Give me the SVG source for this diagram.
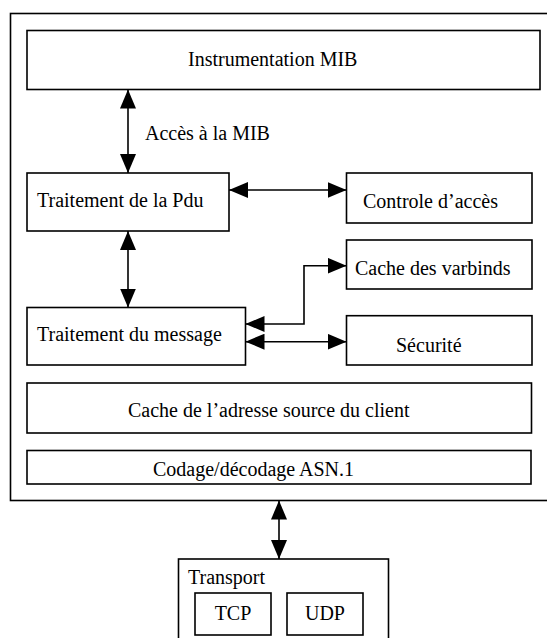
<svg xmlns="http://www.w3.org/2000/svg" width="547" height="638" viewBox="0 0 547 638">
<style>
rect{fill:#fff;stroke:#000;stroke-width:1.6}
text{font-family:"Liberation Serif","Times New Roman",serif;font-size:20px;fill:#000}
.c{fill:none;stroke:#000;stroke-width:1.6}
</style>
<defs>
<marker id="a" markerUnits="userSpaceOnUse" markerWidth="19" markerHeight="16" refX="19" refY="8" orient="auto-start-reverse" viewBox="0 0 19 16">
<path d="M0,0 L19,8 L0,16 z" fill="#000"/>
</marker>
</defs>
<g id="agent"><rect x="10.5" y="13.5" width="545" height="487"/></g>
<g id="mib"><rect x="27" y="30.5" width="513" height="59"/><text x="188" y="66">Instrumentation MIB</text></g>
<g id="pdu"><rect x="27" y="173" width="202" height="58"/><text x="37" y="207">Traitement de la Pdu</text></g>
<g id="controle"><rect x="346.5" y="173" width="185.5" height="50"/><text x="363" y="208">Controle d’accès</text></g>
<g id="varbinds"><rect x="346.5" y="240" width="185.5" height="49"/><text x="355" y="275">Cache des varbinds</text></g>
<g id="message"><rect x="27" y="307.5" width="218.5" height="57.5"/><text x="37" y="341">Traitement du message</text></g>
<g id="securite"><rect x="346.5" y="315.7" width="185.5" height="49.3"/><text x="396" y="352">Sécurité</text></g>
<g id="cache"><rect x="27" y="383" width="504.5" height="50"/><text x="128" y="417">Cache de l’adresse source du client</text></g>
<g id="codage"><rect x="27" y="450.5" width="504" height="33.5"/><text x="153" y="476">Codage/décodage ASN.1</text></g>
<g id="transport"><rect x="178.5" y="559" width="210" height="90"/><text x="188" y="584">Transport</text></g>
<g id="tcp"><rect x="195" y="593" width="76" height="42"/><text x="233" y="620" text-anchor="middle">TCP</text></g>
<g id="udp"><rect x="287" y="593" width="76" height="42"/><text x="325" y="620" text-anchor="middle">UDP</text></g>
<g id="connectors">
<path class="c" d="M128,89.5 V173" marker-start="url(#a)" marker-end="url(#a)"/>
<text x="145" y="140">Accès à la MIB</text>
<path class="c" d="M229,190 H346.5" marker-start="url(#a)" marker-end="url(#a)"/>
<path class="c" d="M128,231 V307.5" marker-start="url(#a)" marker-end="url(#a)"/>
<path class="c" d="M245.5,324 H304 V265.7 H346.5" marker-start="url(#a)" marker-end="url(#a)"/>
<path class="c" d="M245.5,341.7 H346.5" marker-start="url(#a)" marker-end="url(#a)"/>
<path class="c" d="M279,500.5 V559" marker-start="url(#a)" marker-end="url(#a)"/>
</g>
</svg>
